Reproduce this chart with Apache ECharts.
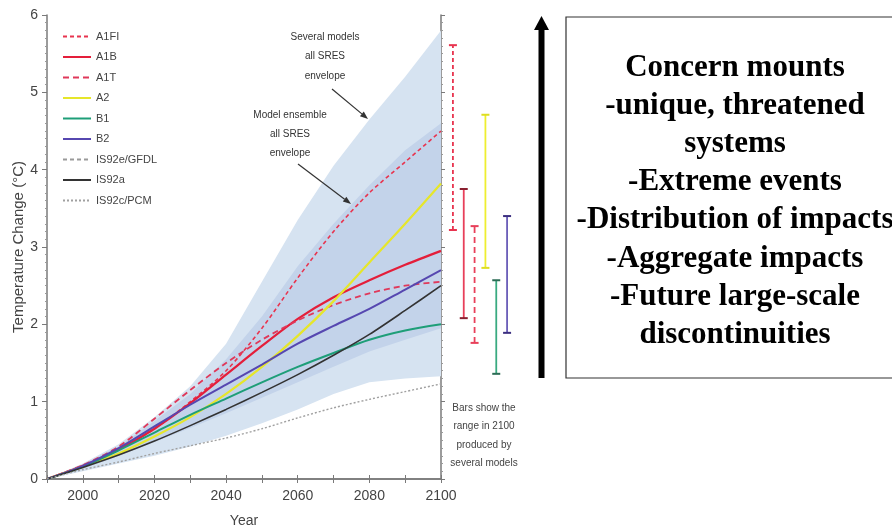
<!DOCTYPE html>
<html>
<head>
<meta charset="utf-8">
<script src="https://cdn.jsdelivr.net/npm/echarts@6/dist/echarts.min.js"></script>
<style>
html,body{margin:0;padding:0;background:#fff;}
#chart{width:892px;height:531px;}
</style>
</head>
<body>
<div id="chart"></div>
<script>
// ---------- DATA ----------
const years = [1990, 2000, 2010, 2020, 2030, 2040, 2050, 2060, 2070, 2080, 2090, 2100];
const A1FI = [0, 0.17, 0.38, 0.65, 1.00, 1.40, 1.95, 2.60, 3.20, 3.70, 4.10, 4.50];
const A1B  = [0, 0.17, 0.38, 0.65, 0.98, 1.35, 1.72, 2.07, 2.35, 2.57, 2.77, 2.95];
const A1T  = [0, 0.18, 0.42, 0.78, 1.15, 1.50, 1.80, 2.05, 2.25, 2.40, 2.50, 2.55];
const A2   = [0, 0.16, 0.33, 0.55, 0.80, 1.10, 1.45, 1.85, 2.30, 2.80, 3.30, 3.82];
const B1   = [0, 0.16, 0.37, 0.60, 0.83, 1.04, 1.25, 1.45, 1.63, 1.80, 1.92, 2.00];
const B2   = [0, 0.17, 0.40, 0.68, 0.96, 1.22, 1.48, 1.75, 1.98, 2.20, 2.45, 2.70];
const IS92eGFDL = [];
const IS92a = [0, 0.15, 0.31, 0.49, 0.69, 0.90, 1.12, 1.35, 1.60, 1.87, 2.18, 2.50];
const IS92cPCM = [0, 0.12, 0.22, 0.33, 0.43, 0.53, 0.65, 0.79, 0.92, 1.03, 1.13, 1.23];
const outerLow  = [0, 0.10, 0.20, 0.30, 0.42, 0.56, 0.72, 0.90, 1.10, 1.25, 1.30, 1.33];
const outerHigh = [0, 0.20, 0.45, 0.80, 1.20, 1.75, 2.55, 3.35, 4.05, 4.65, 5.20, 5.80];
const innerLow  = [0, 0.13, 0.30, 0.48, 0.66, 0.85, 1.05, 1.25, 1.45, 1.65, 1.80, 1.95];
const innerHigh = [0, 0.19, 0.42, 0.75, 1.10, 1.55, 2.10, 2.75, 3.30, 3.80, 4.25, 4.60];
const barNames = ['A1FI', 'A1B', 'A1T', 'A2', 'B1', 'B2'];
const barLow   = [3.22, 2.08, 1.76, 2.73, 1.36, 1.89];
const barHigh  = [5.61, 3.75, 3.27, 4.71, 2.57, 3.40];
const xLabels = [2000, 2020, 2040, 2060, 2080, 2100];
const yLabels = [0, 1, 2, 3, 4, 5, 6];
const boxLines = ['Concern mounts', '-unique, threatened', 'systems', '-Extreme events',
  '-Distribution of impacts', '-Aggregate impacts', '-Future large-scale', 'discontinuities'];
const noteOuter = ['Several models', 'all SRES', 'envelope'];
const noteInner = ['Model ensemble', 'all SRES', 'envelope'];
const noteBars = ['Bars show the', 'range in 2100', 'produced by', 'several models'];

// ---------- STYLES ----------
const narrow = "'Liberation Sans Narrow', 'Arial Narrow', 'Liberation Sans', sans-serif";
const seriesStyle = {
  'A1FI':       {color: '#e8344f', type: [4, 3], width: 1.6},
  'A1B':        {color: '#e41e3a', type: 'solid', width: 2.2},
  'A1T':        {color: '#e0385a', type: [6, 4], width: 1.8},
  'A2':         {color: '#e6e62a', type: 'solid', width: 2.2},
  'B1':         {color: '#1e9e78', type: 'solid', width: 2},
  'B2':         {color: '#5647b0', type: 'solid', width: 2},
  'IS92e/GFDL': {color: '#9a9a9a', type: [4, 3], width: 1.4},
  'IS92a':      {color: '#333333', type: 'solid', width: 1.6},
  'IS92c/PCM':  {color: '#a0a0a0', type: [2, 2], width: 1.4}
};
const barStyle = [
  {color: '#e8344f', cap: '#e8344f', dash: [4, 3]},
  {color: '#e8405a', cap: '#8a2030', dash: null},
  {color: '#e8405a', cap: '#e8405a', dash: [6, 4]},
  {color: '#eeee30', cap: '#dede20', dash: null},
  {color: '#3aaa80', cap: '#2c6c55', dash: null},
  {color: '#6a5cb8', cap: '#3c2f80', dash: null}
];
const bands = [
  {low: outerLow, high: outerHigh, fill: '#d6e3f1'},
  {low: innerLow, high: innerHigh, fill: '#c3d3ea'}
];

const pts = arr => arr.map((v, i) => [years[i], v]);

const lineNames = ['A1FI', 'A1B', 'A1T', 'A2', 'B1', 'B2', 'IS92e/GFDL', 'IS92a', 'IS92c/PCM'];
const lineData = [A1FI, A1B, A1T, A2, B1, B2, IS92eGFDL, IS92a, IS92cPCM];

const series = [];
// envelopes
series.push({
  type: 'custom', name: 'envelopes', xAxisIndex: 0, yAxisIndex: 0, silent: true, z: 1,
  data: bands.map((b, i) => [years[0], 0, i]),
  renderItem: function (params, api) {
    const b = bands[params.dataIndex];
    const up = b.high.map((v, i) => api.coord([years[i], v]));
    const dn = b.low.map((v, i) => api.coord([years[i], v])).reverse();
    return {type: 'polygon', shape: {points: up.concat(dn)}, style: {fill: b.fill}};
  }
});

lineNames.forEach((n, k) => {
  const s = seriesStyle[n];
  series.push({
    type: 'line', name: n, data: pts(lineData[k]), symbol: 'none', smooth: 0.3,
    lineStyle: {color: s.color, width: s.width, type: s.type},
    itemStyle: {color: s.color}, z: 5, silent: true
  });
});

// range bars (second grid)
series.push({
  type: 'custom', xAxisIndex: 2, yAxisIndex: 2, silent: true,
  data: barNames.map((n, i) => [i, barLow[i], barHigh[i]]),
  renderItem: function (params, api) {
    const i = api.value(0);
    const lo = api.coord([i, api.value(1)]);
    const hi = api.coord([i, api.value(2)]);
    const st = barStyle[params.dataIndex];
    const cw = 4;
    return {
      type: 'group',
      children: [
        {type: 'line', shape: {x1: lo[0], y1: lo[1], x2: hi[0], y2: hi[1]},
          style: {stroke: st.color, lineWidth: 1.8, lineDash: st.dash}},
        {type: 'line', shape: {x1: lo[0] - cw, y1: lo[1], x2: lo[0] + cw, y2: lo[1]},
          style: {stroke: st.cap, lineWidth: 2}},
        {type: 'line', shape: {x1: hi[0] - cw, y1: hi[1], x2: hi[0] + cw, y2: hi[1]},
          style: {stroke: st.cap, lineWidth: 2}}
      ]
    };
  }
});

// ---------- GRAPHICS ----------
function arrow(x1, y1, x2, y2, color, w, hl, hw) {
  const dx = x2 - x1, dy = y2 - y1, L = Math.sqrt(dx * dx + dy * dy);
  const ux = dx / L, uy = dy / L;
  const bx = x2 - ux * hl, by = y2 - uy * hl;
  return [
    {type: 'line', shape: {x1: x1, y1: y1, x2: bx, y2: by}, style: {stroke: color, lineWidth: w}, z: 100},
    {type: 'polygon', shape: {points: [[x2, y2], [bx - uy * hw, by + ux * hw], [bx + uy * hw, by - ux * hw]]},
      style: {fill: color}, z: 100}
  ];
}
const graphics = [];
noteOuter.forEach((t, i) => graphics.push({type: 'text', x: 325, y: 37 + i * 19.5, z: 100,
  style: {text: t, fill: '#333', font: '10px ' + narrow, textAlign: 'center', textVerticalAlign: 'middle'}}));
noteInner.forEach((t, i) => graphics.push({type: 'text', x: 290, y: 115 + i * 19, z: 100,
  style: {text: t, fill: '#333', font: '10px ' + narrow, textAlign: 'center', textVerticalAlign: 'middle'}}));
noteBars.forEach((t, i) => graphics.push({type: 'text', x: 484, y: 408 + i * 18.5, z: 100,
  style: {text: t, fill: '#444', font: '10px ' + narrow, textAlign: 'center', textVerticalAlign: 'middle'}}));
arrow(332, 89, 368, 119, '#333', 1.2, 8, 3).forEach(g => graphics.push(g));
arrow(298, 164, 351, 204, '#333', 1.2, 8, 3).forEach(g => graphics.push(g));
// big arrow
arrow(541.5, 378, 541.5, 16, '#000', 6, 14, 7.5).forEach(g => graphics.push(g));
// text box
graphics.push({type: 'rect', shape: {x: 566, y: 17, width: 340, height: 361},
  style: {fill: '#fff', stroke: '#333', lineWidth: 1.2}, z: 90});
boxLines.forEach((t, i) => graphics.push({type: 'text', x: 735, y: 68 + i * 38.1, z: 100,
  style: {text: t, fill: '#000', font: 'bold 31px "Liberation Serif", "Times New Roman", serif',
    textAlign: 'center', textVerticalAlign: 'middle'}}));

const axisCol = '#7a7a7a';
const labelStyle = {color: '#444', fontFamily: narrow, fontSize: 14};

const option = {
  animation: false,
  backgroundColor: '#fff',
  grid: [
    {left: 47, right: 451, top: 15, bottom: 52, outerBoundsMode: 'none', containLabel: false},
    {left: 447.5, right: 379.5, top: 15, bottom: 52, outerBoundsMode: 'none', containLabel: false}
  ],
  legend: {
    data: lineNames, orient: 'vertical', left: 57, top: 26,
    itemWidth: 28, itemHeight: 10, itemGap: 9.5,
    itemStyle: {opacity: 0},
    textStyle: {color: '#444', fontFamily: narrow, fontSize: 11}
  },
  xAxis: [
    {type: 'value', gridIndex: 0, min: 1990, max: 2100, interval: 10, position: 'bottom',
      name: 'Year', nameLocation: 'middle', nameGap: 35,
      nameTextStyle: {color: '#444', fontFamily: narrow, fontSize: 14},
      axisLine: {show: true, lineStyle: {color: axisCol, width: 1.5}},
      axisTick: {show: true, length: 4, lineStyle: {color: axisCol}},
      axisLabel: Object.assign({customValues: xLabels, margin: 10, formatter: v => String(v)}, labelStyle),
      splitLine: {show: false}},
    {type: 'value', gridIndex: 0, min: 1990, max: 2100, interval: 10, position: 'top',
      axisLine: {show: true, lineStyle: {color: axisCol, width: 1.5}},
      axisTick: {show: true, length: 4, lineStyle: {color: axisCol}},
      axisLabel: {show: false}, splitLine: {show: false}},
    {type: 'category', gridIndex: 1, data: barNames, show: false}
  ],
  yAxis: [
    {type: 'value', gridIndex: 0, min: 0, max: 6, interval: 1,
      name: 'Temperature Change (°C)', nameLocation: 'middle', nameGap: 19, nameRotate: 90,
      nameTextStyle: {color: '#444', fontFamily: "'Liberation Sans', sans-serif", fontSize: 15},
      axisLine: {show: true, lineStyle: {color: axisCol, width: 1.5}},
      axisTick: {show: true, length: 5, lineStyle: {color: axisCol}},
      minorTick: {show: true, splitNumber: 10, length: 2, lineStyle: {color: '#999'}},
      axisLabel: Object.assign({margin: 9, customValues: yLabels}, labelStyle),
      splitLine: {show: false}},
    {type: 'value', gridIndex: 0, min: 0, max: 6, interval: 1, position: 'right',
      axisLine: {show: true, lineStyle: {color: axisCol, width: 1.5}},
      axisTick: {show: true, length: 4, lineStyle: {color: axisCol}},
      minorTick: {show: true, splitNumber: 10, length: 2, lineStyle: {color: '#999'}},
      axisLabel: {show: false}, splitLine: {show: false}},
    {type: 'value', gridIndex: 1, min: 0, max: 6, show: false}
  ],
  series: series,
  graphic: graphics
};

const chart = echarts.init(document.getElementById('chart'), null, {renderer: 'canvas'});
chart.setOption(option);
</script>
</body>
</html>
